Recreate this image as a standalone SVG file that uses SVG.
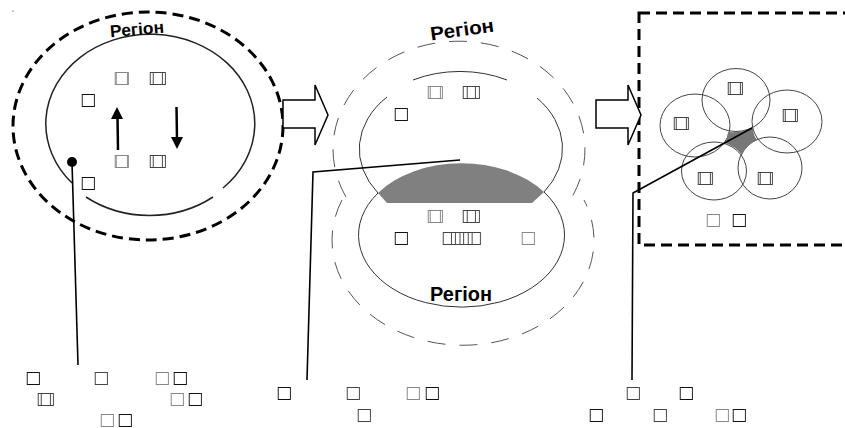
<svg xmlns="http://www.w3.org/2000/svg" width="845" height="428" viewBox="0 0 845 428">
  <style>
    .tf { font-family: "DejaVu Sans", sans-serif; font-size: 17px; fill: #111; }
    .tm { fill: #444; }
    .tg { fill: #888; }
    .reg { font-family: "Liberation Sans", Arial, sans-serif; font-weight: bold; fill: #000; }
    .thick-dash { fill: none; stroke: #000; stroke-width: 3; stroke-dasharray: 11 6; }
    .thin-dash { fill: none; stroke: #555; stroke-width: 1; stroke-dasharray: 18 14; }
    .ring { fill: none; stroke: #222; stroke-width: 1.5; }
    .ring-thin { fill: none; stroke: #333; stroke-width: 1; }
    .circ { fill: none; stroke: #444; stroke-width: 1; }
    .lead { fill: none; stroke: #000; stroke-width: 1.6; }
    .block { fill: #fff; stroke: #000; stroke-width: 1.5; }
  </style>
  <defs>
    <!-- pass-through filter: labels are rasterised on their own layer -->
    <filter id="flat" x="0" y="0" width="1" height="1">
      <feOffset dx="0" dy="0"/>
    </filter>
  </defs>

  <rect width="845" height="428" fill="#fff"/>
  <circle cx="13" cy="11" r="0.8" fill="#888"/>

  <!-- left panel: a single region -->
  <g id="region-single">
    <ellipse class="thick-dash" cx="148" cy="126" rx="135" ry="114"/>
    <path class="ring" d="M86,197 A104.5,89.5 0 0 0 213,197 M223,188 A104.5,89.5 0 1 0 72,183"/>
    <text class="reg" x="137" y="35" font-size="17" text-anchor="middle" textLength="54" lengthAdjust="spacingAndGlyphs" transform="rotate(-5 137 30)">Регіон</text>
    <g filter="url(#flat)">
      <text class="tf tg" x="113" y="83" textLength="17" lengthAdjust="spacing">□□</text>
      <text class="tf tm" x="148" y="83" textLength="19" lengthAdjust="spacing">□□</text>
      <text class="tf" x="80" y="105">□</text>
      <text class="tf tg" x="113" y="166" textLength="17" lengthAdjust="spacing">□□</text>
      <text class="tf tm" x="148" y="166" textLength="19" lengthAdjust="spacing">□□</text>
      <text class="tf" x="80" y="188">□</text>
    </g>
    <g id="flow-up">
      <line x1="118" y1="150" x2="117.5" y2="117" stroke="#000" stroke-width="2.5"/>
      <polygon points="117,107 111,119 123,119" fill="#000"/>
    </g>
    <g id="flow-down">
      <line x1="176.5" y1="107" x2="177" y2="139" stroke="#000" stroke-width="2.5"/>
      <polygon points="177,149 171,137 183,137" fill="#000"/>
    </g>
  </g>

  <!-- middle panel: two overlapping regions -->
  <g id="region-pair">
    <path class="thin-dash" d="M346,197 A126,108 0 1 1 572,197"/>
    <path class="thin-dash" d="M342,200 A131,105 0 1 0 584,200"/>
    <path class="ring-thin" d="M378,193 A102,76 0 0 1 387,97 M413,80 A102,76 0 0 1 507,80 M537,98 A102,76 0 0 1 544,192"/>
    <path class="ring-thin" d="M378,193 A103,72 0 1 0 544,192"/>
    <path d="M387,203 L378,193 A103,72 0 0 1 544,192 L532,203 Z" fill="#808080"/>
    <text class="reg" x="462" y="36" font-size="19" text-anchor="middle" textLength="64" lengthAdjust="spacingAndGlyphs" transform="rotate(-8 462 29)">Регіон</text>
    <text class="reg" x="461" y="301" font-size="20" text-anchor="middle" textLength="62" lengthAdjust="spacingAndGlyphs">Регіон</text>
    <g filter="url(#flat)">
      <text class="tf tg" x="426" y="97" textLength="18" lengthAdjust="spacing">□□</text>
      <text class="tf tm" x="461" y="97" textLength="20" lengthAdjust="spacing">□□</text>
      <text class="tf" x="393" y="119">□</text>
      <text class="tf tg" x="426" y="221" textLength="18" lengthAdjust="spacing">□□</text>
      <text class="tf tm" x="461" y="221" textLength="20" lengthAdjust="spacing">□□</text>
      <text class="tf" x="393" y="243">□</text>
      <text class="tf tm" x="441" y="243" textLength="41" lengthAdjust="spacing">□□□□</text>
      <text class="tf tg" x="520" y="243">□</text>
    </g>
  </g>

  <!-- right panel: five overlapping regions -->
  <g id="region-cluster">
    <rect class="thick-dash" x="639" y="13" width="215" height="232" stroke-dasharray="8 5"/>
    <ellipse class="circ" cx="736" cy="100" rx="34" ry="31.5"/>
    <ellipse class="circ" cx="695" cy="125.5" rx="35" ry="31.5"/>
    <ellipse class="circ" cx="787" cy="121.5" rx="35" ry="31.5"/>
    <ellipse class="circ" cx="714" cy="171" rx="32.5" ry="29"/>
    <ellipse class="circ" cx="770" cy="168" rx="32" ry="31"/>
    <path d="M728,132 Q740,133 753,128 Q753,135 757,140 Q746,145 742,155 Q735,146 725,143 Q728,138 728,132 Z" fill="#777"/>
    <g filter="url(#flat)">
      <text class="tf tm" x="726" y="93" textLength="18" lengthAdjust="spacing">□□</text>
      <text class="tf tm" x="672" y="128" textLength="18" lengthAdjust="spacing">□□</text>
      <text class="tf tm" x="781" y="120" textLength="18" lengthAdjust="spacing">□□</text>
      <text class="tf tm" x="696" y="183" textLength="18" lengthAdjust="spacing">□□</text>
      <text class="tf tm" x="756" y="183" textLength="18" lengthAdjust="spacing">□□</text>
      <text class="tf tg" x="705" y="225">□</text>
      <text class="tf" x="731" y="225">□</text>
    </g>
  </g>

  <!-- transition arrows -->
  <g id="step-1">
    <polygon class="block" points="283,100 315,100 315,85 328,115 315,145 315,128 283,128"/>
  </g>
  <g id="step-2">
    <polygon class="block" points="596,100 628,100 628,85 641,115 628,145 628,128 596,128"/>
  </g>

  <!-- callout leaders -->
  <g id="connectors">
    <circle cx="72" cy="162" r="5" fill="#000"/>
    <polyline class="lead" points="72,162 78,365"/>
    <polyline class="lead" points="307,380 313,172 460,160"/>
    <polyline class="lead" points="632,380 633,193 752,128"/>
  </g>

  <!-- captions -->
  <g id="caption-left" filter="url(#flat)">
    <text class="tf" x="25" y="383">□</text>
    <text class="tf tm" x="93" y="383">□</text>
    <text class="tf tg" x="154" y="383">□</text>
    <text class="tf" x="172" y="383">□</text>
    <text class="tf tm" x="36" y="404" textLength="19" lengthAdjust="spacing">□□</text>
    <text class="tf tg" x="169" y="404">□</text>
    <text class="tf" x="187" y="404">□</text>
    <text class="tf tg" x="99" y="425">□</text>
    <text class="tf" x="117" y="425">□</text>
  </g>
  <g id="caption-middle" filter="url(#flat)">
    <text class="tf" x="276" y="398">□</text>
    <text class="tf tm" x="345" y="398">□</text>
    <text class="tf tg" x="405" y="398">□</text>
    <text class="tf" x="424" y="398">□</text>
    <text class="tf tm" x="356" y="420">□</text>
  </g>
  <g id="caption-right" filter="url(#flat)">
    <text class="tf tm" x="625" y="398">□</text>
    <text class="tf" x="678" y="398">□</text>
    <text class="tf" x="588" y="420">□</text>
    <text class="tf tm" x="652" y="420">□</text>
    <text class="tf tg" x="714" y="420">□</text>
    <text class="tf" x="731" y="420">□</text>
  </g>
</svg>
